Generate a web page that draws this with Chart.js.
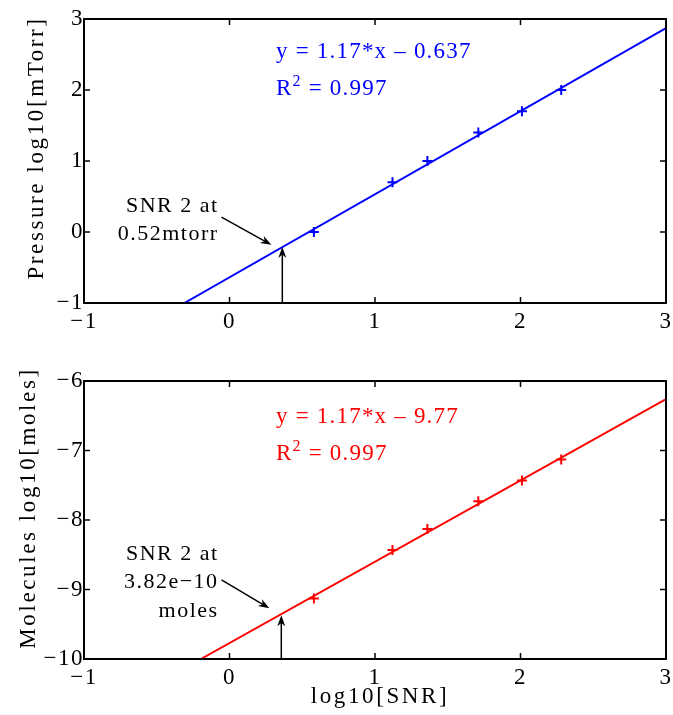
<!DOCTYPE html>
<html>
<head>
<meta charset="utf-8">
<script src="https://cdn.jsdelivr.net/npm/chart.js@4.4.0/dist/chart.umd.min.js"></script>
<style>
body { margin: 0; background: #fff; }
.box { position: absolute; left: 0; width: 673px; }
#top { top: 0; height: 340px; }
#bottom { top: 340px; height: 375px; }
</style>
</head>
<body>
<div class="box" id="top"><canvas id="chart_pressure"></canvas></div>
<div class="box" id="bottom"><canvas id="chart_moles"></canvas></div>
<script>
// values
const snr = [0.58, 1.12, 1.36, 1.71, 2.01, 2.28]
const pressure = [0, 0.70, 1.00, 1.40, 1.70, 2.00]
const moles = [-9.13, -8.43, -8.13, -7.73, -7.43, -7.13]

const fitPressureX = [-0.31, 3]
const fitPressureY = [-1, 2.873]
const fitMolesX = [-0.197, 3]
const fitMolesY = [-10, -6.26]

const xTicks = [-1, 0, 1, 2, 3]
const pressureTicks = [-1, 0, 1, 2, 3]
const molesTicks = [-10, -9, -8, -7, -6]

const serif = '"Liberation Serif", "Times New Roman", serif'

function minus(v) {
    return String(v).replace('-', '\u2212')
}

function drawArrow(ctx, x1, y1, x2, y2) {
    const ang = Math.atan2(y2 - y1, x2 - x1)
    const len = 11, w = 4
    const c = Math.cos(ang), s = Math.sin(ang)
    ctx.beginPath()
    ctx.moveTo(x1, y1)
    ctx.lineTo(x2 - c * len * 0.7, y2 - s * len * 0.7)
    ctx.stroke()
    ctx.beginPath()
    ctx.moveTo(x2, y2)
    ctx.lineTo(x2 - len * c + w * s, y2 - len * s - w * c)
    ctx.lineTo(x2 - len * 0.7 * c, y2 - len * 0.7 * s)
    ctx.lineTo(x2 - len * c - w * s, y2 - len * s + w * c)
    ctx.closePath()
    ctx.fill()
}

const matlabBox = {
    id: 'matlabBox',
    beforeDraw(chart) {
        chart.ctx.letterSpacing = '1.5px'
    },
    afterDraw(chart, args, o) {
        const ctx = chart.ctx
        const a = chart.chartArea
        const xs = chart.scales.x, ys = chart.scales.y
        ctx.save()

        // frame + inward ticks on all four sides
        ctx.strokeStyle = '#000'
        ctx.lineWidth = 2
        ctx.strokeRect(a.left, a.top, a.right - a.left, a.bottom - a.top)
        ctx.lineWidth = 1.5
        ctx.beginPath()
        xs.ticks.forEach(t => {
            let px = xs.getPixelForValue(t.value)
            ctx.moveTo(px, a.bottom); ctx.lineTo(px, a.bottom - 6)
            ctx.moveTo(px, a.top); ctx.lineTo(px, a.top + 6)
        })
        ys.ticks.forEach(t => {
            let py = ys.getPixelForValue(t.value)
            ctx.moveTo(a.left, py); ctx.lineTo(a.left + 6, py)
            ctx.moveTo(a.right, py); ctx.lineTo(a.right - 6, py)
        })
        ctx.stroke()

        // arrows
        ctx.fillStyle = '#000'
        ctx.lineWidth = 1.5
        o.arrows.forEach(ar => {
            drawArrow(ctx,
                xs.getPixelForValue(ar.from[0]), ys.getPixelForValue(ar.from[1]),
                xs.getPixelForValue(ar.to[0]), ys.getPixelForValue(ar.to[1]))
        })

        // note text, right aligned
        ctx.font = '22px ' + serif
        ctx.letterSpacing = '1.5px'
        ctx.textAlign = 'right'
        ctx.textBaseline = 'alphabetic'
        ctx.fillStyle = '#000'
        o.note.lines.forEach((line, i) => {
            ctx.fillText(line, xs.getPixelForValue(o.note.x), ys.getPixelForValue(o.note.y[i]))
        })

        // fit equation
        ctx.font = '23px ' + serif
        ctx.letterSpacing = '1.2px'
        ctx.textAlign = 'left'
        ctx.fillStyle = o.color
        let ex = xs.getPixelForValue(o.eq.x)
        ctx.fillText(o.eq.text, ex, ys.getPixelForValue(o.eq.y[0]))
        let ry = ys.getPixelForValue(o.eq.y[1])
        ctx.fillText('R', ex, ry)
        let rw = ctx.measureText('R').width
        ctx.font = '16px ' + serif
        ctx.fillText('2', ex + rw, ry - 9)
        let sw = ctx.measureText('2').width
        ctx.font = '23px ' + serif
        ctx.fillText(' = ' + o.eq.r2, ex + rw + sw, ry)

        // axis titles
        ctx.fillStyle = '#000'
        ctx.font = '23px ' + serif
        ctx.letterSpacing = '2.6px'
        ctx.textAlign = 'center'
        ctx.textBaseline = 'middle'
        ctx.save()
        ctx.translate(o.yTitle.x, o.yTitle.y)
        ctx.rotate(-Math.PI / 2)
        ctx.fillText(o.yTitle.text, 0, 0)
        ctx.restore()
        if (o.xTitle) {
            ctx.fillText(o.xTitle.text, o.xTitle.x, o.xTitle.y)
        }
        ctx.restore()
    }
}

function makeChart(canvas, cfg) {
    return new Chart(canvas, {
        type: 'scatter',
        data: {
            datasets: [{
                data: cfg.fitX.map((x, i) => ({ x: x, y: cfg.fitY[i] })),
                showLine: true,
                borderColor: cfg.color,
                borderWidth: 2,
                pointRadius: 0
            }, {
                data: snr.map((x, i) => ({ x: x, y: cfg.values[i] })),
                showLine: false,
                pointStyle: 'cross',
                pointRadius: 5,
                borderColor: cfg.color,
                borderWidth: 2
            }]
        },
        plugins: [matlabBox],
        options: {
            responsive: true,
            maintainAspectRatio: false,
            animation: false,
            layout: {
                padding: { top: cfg.padTop, right: 5, left: 0, bottom: 0 }
            },
            plugins: {
                legend: { display: false },
                tooltip: { enabled: false },
                matlabBox: cfg.box
            },
            scales: {
                x: {
                    min: -1,
                    max: 3,
                    grid: { display: false, drawTicks: false },
                    border: { display: false },
                    afterBuildTicks: s => { s.ticks = xTicks.map(v => ({ value: v })) },
                    afterFit: s => { s.height = cfg.xHeight; s.paddingLeft = 0; s.paddingRight = 0 },
                    ticks: {
                        padding: 5,
                        color: '#000',
                        font: { family: serif, size: 23 },
                        callback: v => minus(v)
                    }
                },
                y: {
                    min: cfg.yTicks[0],
                    max: cfg.yTicks[cfg.yTicks.length - 1],
                    grid: { display: false, drawTicks: false },
                    border: { display: false },
                    afterBuildTicks: s => { s.ticks = cfg.yTicks.map(v => ({ value: v })) },
                    afterFit: s => { s.width = 84; s.paddingTop = 0; s.paddingBottom = 0 },
                    ticks: {
                        padding: 0,
                        color: '#000',
                        font: { family: serif, size: 23 },
                        callback: v => minus(v)
                    }
                }
            }
        }
    })
}

let chartPressure = makeChart(document.getElementById('chart_pressure'), {
    values: pressure,
    fitX: fitPressureX,
    fitY: fitPressureY,
    yTicks: pressureTicks,
    color: '#0000ff',
    padTop: 19,
    xHeight: 37,
    box: {
        color: '#0000ff',
        eq: { text: 'y = 1.17*x \u2013 0.637', r2: '0.997', x: 0.32, y: [2.45, 1.93] },
        note: { lines: ['SNR 2 at', '0.52mtorr'], x: -0.075, y: [0.28, -0.11] },
        arrows: [
            { from: [0.363, -1], to: [0.363, -0.21] },
            { from: [-0.055, 0.21], to: [0.288, -0.18] }
        ],
        yTitle: { text: 'Pressure log10[mTorr]', x: 37, y: 148 }
    }
})

let chartMoles = makeChart(document.getElementById('chart_moles'), {
    values: moles,
    fitX: fitMolesX,
    fitY: fitMolesY,
    yTicks: molesTicks,
    color: '#ff0000',
    padTop: 41,
    xHeight: 56,
    box: {
        color: '#ff0000',
        eq: { text: 'y = 1.17*x \u2013 9.77', r2: '0.997', x: 0.32, y: [-6.60, -7.14] },
        note: { lines: ['SNR 2 at', '3.82e\u221210', 'moles'], x: -0.075, y: [-8.58, -8.98, -9.40] },
        arrows: [
            { from: [0.356, -10], to: [0.356, -9.37] },
            { from: [-0.055, -8.86], to: [0.274, -9.27] }
        ],
        yTitle: { text: 'Molecules log10[moles]', x: 29, y: 168 },
        xTitle: { text: 'log10[SNR]', x: 380, y: 357 }
    }
})
</script>
</body>
</html>
